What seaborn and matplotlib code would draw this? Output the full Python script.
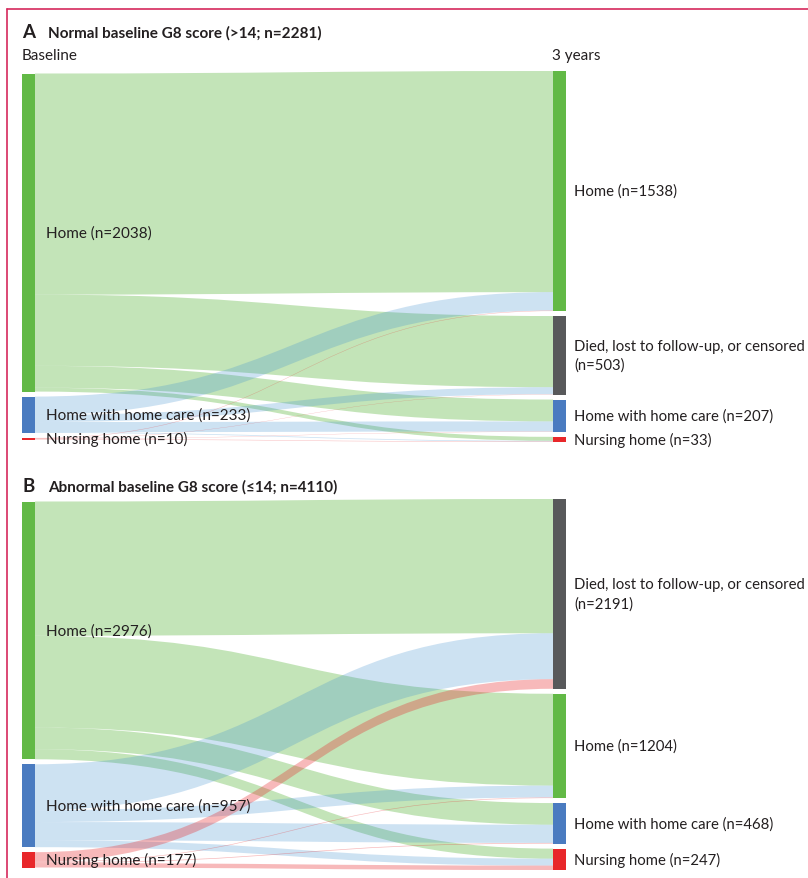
import numpy as np
import matplotlib
matplotlib.use("Agg")
import matplotlib.pyplot as plt
from matplotlib.path import Path
from matplotlib.patches import PathPatch, Rectangle
import seaborn as sns

sns.set_theme(style="white")
plt.rcParams["font.family"] = ["Lato", "DejaVu Sans"]

# ── Data ──────────────────────────────────────────────────
SRC_NAMES = ["Home", "Home with home care", "Nursing home"]

# Panel A: normal baseline G8
A_TGT = ["Home", "Died", "Home with home care", "Nursing home"]
A_TGT_LABELS = ["Home (n=1538)", "Died, lost to follow-up, or censored\n(n=503)",
                "Home with home care (n=207)", "Nursing home (n=33)"]
A_SRC_LABELS = ["Home (n=2038)", "Home with home care (n=233)", "Nursing home (n=10)"]
# rows = source (Home, HHC, NH), cols = target in A_TGT order
A_FLOWS = [[1417, 456, 140, 25],
           [118, 45, 65, 5],
           [3, 2, 2, 3]]

# Panel B: abnormal baseline G8
B_TGT = ["Died", "Home", "Home with home care", "Nursing home"]
B_TGT_LABELS = ["Died, lost to follow-up, or censored\n(n=2191)", "Home (n=1204)",
                "Home with home care (n=468)", "Nursing home (n=247)"]
B_SRC_LABELS = ["Home (n=2976)", "Home with home care (n=957)", "Nursing home (n=177)"]
B_FLOWS = [[1550, 1060, 250, 116],
           [530, 137, 210, 80],
           [111, 7, 8, 51]]

COLORS = {
    "Home": "#62b946",
    "Home with home care": "#4a7bc0",
    "Nursing home": "#e8272a",
    "Died": "#58595b",
}
FLOW_COLORS = {"Home": "#62b946", "Home with home care": "#3f8fd0", "Nursing home": "#e8272a"}
FLOW_ALPHA = {"Home": 0.38, "Home with home care": 0.26, "Nursing home": 0.32}
TXT = "#231f20"

W, H = 808, 879
GAP = 5 / 371
BAR_W = 13 / 544


def layout(sizes, scale, offset):
    tops = []
    y = offset
    for s in sizes:
        tops.append(y)
        y += s * scale + GAP
    return tops


def ribbon(ax, x0, x1, y0a, y0b, y1a, y1b, color, alpha):
    xm = (x0 + x1) / 2
    verts = [(x0, y0a), (xm, y0a), (xm, y1a), (x1, y1a),
             (x1, y1b), (xm, y1b), (xm, y0b), (x0, y0b), (x0, y0a)]
    codes = [Path.MOVETO, Path.CURVE4, Path.CURVE4, Path.CURVE4,
             Path.LINETO, Path.CURVE4, Path.CURVE4, Path.CURVE4, Path.CLOSEPOLY]
    ax.add_patch(PathPatch(Path(verts, codes), facecolor=color, edgecolor="none",
                           alpha=alpha, lw=0))


def draw_panel(ax, flows, tgt_names, tgt_labels, src_labels):
    flows = np.array(flows, dtype=float)
    src_tot = flows.sum(axis=1)
    tgt_tot = flows.sum(axis=0)
    scale = (1 - 3 * GAP) / flows.sum()
    src_tops = layout(src_tot, scale, GAP / 2)
    tgt_tops = layout(tgt_tot, scale, 0)

    ax.set_xlim(0, 1)
    ax.set_ylim(1, 0)
    ax.axis("off")

    x0, x1 = BAR_W, 1 - BAR_W
    tgt_cursor = list(tgt_tops)
    for i, sname in enumerate(SRC_NAMES):
        ycur = src_tops[i]
        for j in range(len(tgt_names)):
            h = flows[i, j] * scale
            ribbon(ax, x0, x1, ycur, ycur + h, tgt_cursor[j], tgt_cursor[j] + h,
                   FLOW_COLORS[sname], FLOW_ALPHA[sname])
            ycur += h
            tgt_cursor[j] += h

    for i, sname in enumerate(SRC_NAMES):
        h = src_tot[i] * scale
        ax.add_patch(Rectangle((0, src_tops[i]), BAR_W, max(h, 0.004),
                               facecolor=COLORS[sname], edgecolor="none"))
        ax.text(0.044, src_tops[i] + h / 2, src_labels[i], va="center", ha="left",
                fontsize=11, color=TXT)
    for j, tname in enumerate(tgt_names):
        h = tgt_tot[j] * scale
        ax.add_patch(Rectangle((1 - BAR_W, tgt_tops[j]), BAR_W, h,
                               facecolor=COLORS[tname], edgecolor="none"))
        ax.text(1.015, tgt_tops[j] + h / 2, tgt_labels[j], va="center", ha="left",
                fontsize=10.7, color=TXT, linespacing=1.45)


fig = plt.figure(figsize=(W / 100, H / 100), dpi=100)

ax_a = fig.add_axes([22 / W, 1 - 443 / H, 544 / W, 371 / H])
draw_panel(ax_a, A_FLOWS, A_TGT, A_TGT_LABELS, A_SRC_LABELS)
ax_b = fig.add_axes([22 / W, 1 - 871 / H, 544 / W, 371 / H])
draw_panel(ax_b, B_FLOWS, B_TGT, B_TGT_LABELS, B_SRC_LABELS)

# titles
fig.text(22 / W, 1 - 33 / H, "A", fontsize=13.5, fontweight="bold", va="center", color=TXT)
fig.text(48 / W, 1 - 33 / H, "Normal baseline G8 score (>14; n=2281)", fontsize=11,
         fontweight="bold", va="center", color=TXT)
fig.text(22 / W, 1 - 56 / H, "Baseline", fontsize=11, va="center", color=TXT)
fig.text(552 / W, 1 - 56 / H, "3 years", fontsize=11, va="center", color=TXT)
fig.text(22 / W, 1 - 487 / H, "B", fontsize=13.5, fontweight="bold", va="center", color=TXT)
fig.text(48 / W, 1 - 487 / H, "Abnormal baseline G8 score (≤14; n=4110)", fontsize=11,
         fontweight="bold", va="center", color=TXT)

# frame lines (top and left)
fig.add_artist(plt.Line2D([7 / W, 1], [1 - 10 / H, 1 - 10 / H], color="#d6295c", lw=1.2))
fig.add_artist(plt.Line2D([7 / W, 7 / W], [0, 1 - 10 / H], color="#d6295c", lw=1.2))

fig.savefig("out.png", dpi=100, facecolor="white")
